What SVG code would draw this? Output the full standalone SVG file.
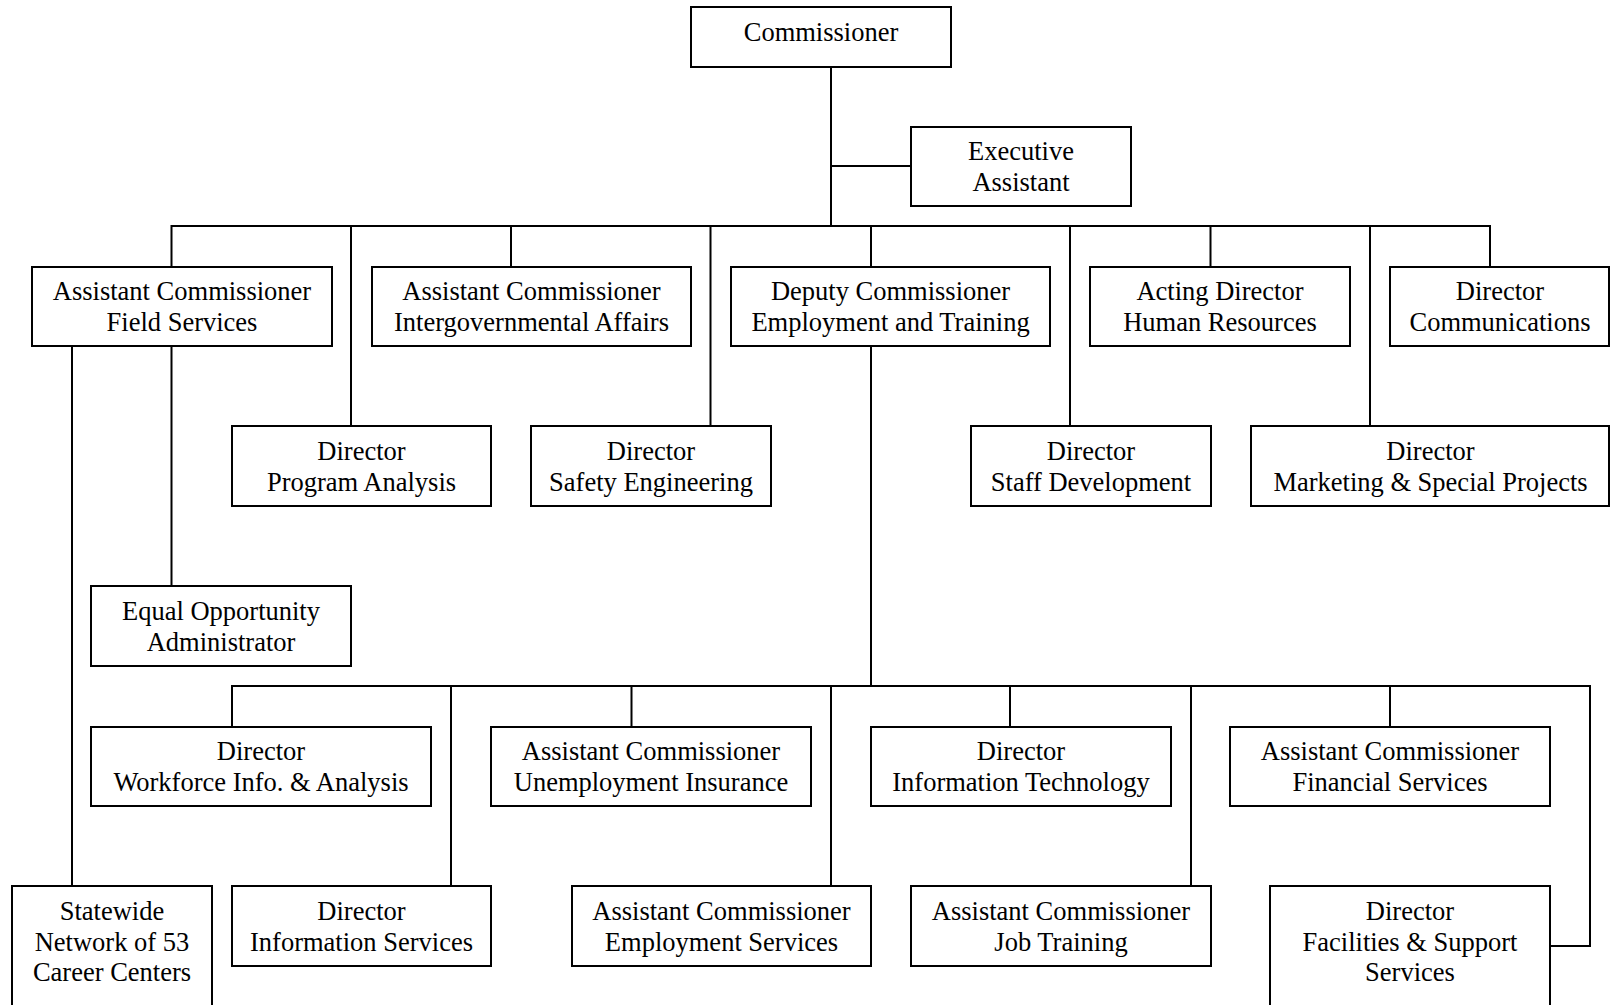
<svg xmlns="http://www.w3.org/2000/svg" width="1610" height="1005" viewBox="0 0 1610 1005">
<style>
rect{fill:#fff;stroke:#000;stroke-width:2}
text{font-family:"Liberation Serif","Times New Roman",serif;font-size:26.5px;fill:#000;text-anchor:middle}
#connectors path{fill:none;stroke:#000;stroke-width:2}
</style>
<rect x="0" y="0" width="1610" height="1005" style="stroke:none"/>
<g id="connectors">
<path d="M831,67V226M831,166H911"/>
<path d="M171.5,267V226H1490V267M351,226V426M511,226V267M710.5,226V426M871,226V267M1070,226V426M1210.5,226V267M1370,226V426"/>
<path d="M72,346V886M171.5,346V586"/>
<path d="M871,346V686"/>
<path d="M232,727V686H1590V946H1550M451,686V886M631.5,686V727M831,686V886M1010,686V727M1191,686V886M1390,686V727"/>
</g>
<g id="commissioner"><rect x="691" y="7" width="260" height="60"/><text x="821" y="41">Commissioner</text></g>
<g id="exec-assistant"><rect x="911" y="127" width="220" height="79"/><text x="1021" y="160">Executive</text><text x="1021" y="191">Assistant</text></g>
<g id="ac-field"><rect x="32" y="267" width="300" height="79"/><text x="182" y="299.5">Assistant Commissioner</text><text x="182" y="330.5">Field Services</text></g>
<g id="ac-intergov"><rect x="372" y="267" width="319" height="79"/><text x="531.5" y="299.5">Assistant Commissioner</text><text x="531.5" y="330.5">Intergovernmental Affairs</text></g>
<g id="deputy"><rect x="731" y="267" width="319" height="79"/><text x="890.5" y="299.5">Deputy Commissioner</text><text x="890.5" y="330.5">Employment and Training</text></g>
<g id="hr"><rect x="1090" y="267" width="260" height="79"/><text x="1220" y="299.5">Acting Director</text><text x="1220" y="330.5">Human Resources</text></g>
<g id="communications"><rect x="1390" y="267" width="219" height="79"/><text x="1500" y="299.5">Director</text><text x="1500" y="330.5">Communications</text></g>
<g id="program-analysis"><rect x="232" y="426" width="259" height="80"/><text x="361.5" y="460">Director</text><text x="361.5" y="491">Program Analysis</text></g>
<g id="safety"><rect x="531" y="426" width="240" height="80"/><text x="651" y="460">Director</text><text x="651" y="491">Safety Engineering</text></g>
<g id="staff-dev"><rect x="971" y="426" width="240" height="80"/><text x="1091" y="460">Director</text><text x="1091" y="491">Staff Development</text></g>
<g id="marketing"><rect x="1251" y="426" width="358" height="80"/><text x="1430.5" y="460">Director</text><text x="1430.5" y="491">Marketing &amp; Special Projects</text></g>
<g id="eoa"><rect x="91" y="586" width="260" height="80"/><text x="221" y="620">Equal Opportunity</text><text x="221" y="651">Administrator</text></g>
<g id="workforce"><rect x="91" y="727" width="340" height="79"/><text x="261" y="759.6">Director</text><text x="261" y="790.6">Workforce Info. &amp; Analysis</text></g>
<g id="ui"><rect x="491" y="727" width="320" height="79"/><text x="651" y="759.6">Assistant Commissioner</text><text x="651" y="790.6">Unemployment Insurance</text></g>
<g id="it"><rect x="871" y="727" width="300" height="79"/><text x="1021" y="759.6">Director</text><text x="1021" y="790.6">Information Technology</text></g>
<g id="financial"><rect x="1230" y="727" width="320" height="79"/><text x="1390" y="759.6">Assistant Commissioner</text><text x="1390" y="790.6">Financial Services</text></g>
<g id="statewide"><rect x="12" y="886" width="200" height="130"/><text x="112" y="920">Statewide</text><text x="112" y="950.5">Network of 53</text><text x="112" y="981">Career Centers</text></g>
<g id="info-services"><rect x="232" y="886" width="259" height="80"/><text x="361.5" y="920">Director</text><text x="361.5" y="950.5">Information Services</text></g>
<g id="emp-services"><rect x="572" y="886" width="299" height="80"/><text x="721.5" y="920">Assistant Commissioner</text><text x="721.5" y="950.5">Employment Services</text></g>
<g id="job-training"><rect x="911" y="886" width="300" height="80"/><text x="1061" y="920">Assistant Commissioner</text><text x="1061" y="950.5">Job Training</text></g>
<g id="facilities"><rect x="1270" y="886" width="280" height="130"/><text x="1410" y="920">Director</text><text x="1410" y="950.5">Facilities &amp; Support</text><text x="1410" y="981">Services</text></g>
</svg>
